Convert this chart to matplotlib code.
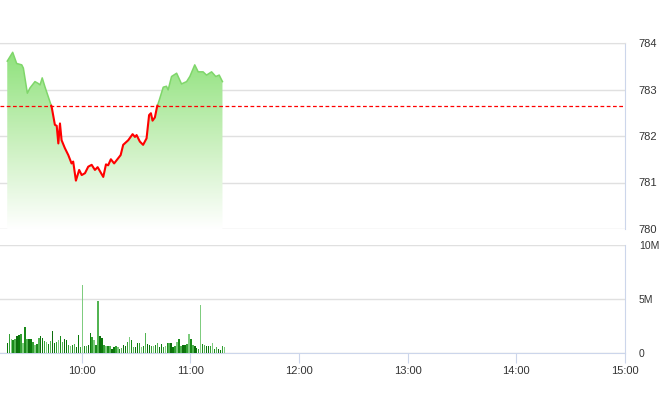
import matplotlib.pyplot as plt
import numpy as np
from matplotlib.colors import LinearSegmentedColormap
from matplotlib.patches import Polygon

plt.rcParams['font.family'] = ['Liberation Sans Narrow', 'Liberation Sans', 'DejaVu Sans']

# Price data (minutes after 09:00)
price_time = [19.0, 22.0, 24.2, 27.0, 27.9, 30.1, 31.5, 34.3, 36.1, 37.1,
              38.3, 39.8, 41.6, 43.5, 45.3, 46.3, 47.2, 48.1, 49.0, 50.8,
              52.7, 54.5, 55.4, 56.9, 58.7, 60.1, 61.9, 63.7, 65.6, 67.4,
              68.9, 72.0, 73.5, 74.7, 76.2, 78.0, 80.2, 81.6, 83.0, 85.8,
              88.2, 89.5, 90.4, 92.2, 94.0, 95.9, 97.3, 98.3, 99.2, 100.5,
              101.7, 102.9, 105.1, 106.9, 107.8, 109.7, 112.5, 115.2, 118.0, 119.8,
              122.5, 124.4, 127.1, 129.0, 131.8, 134.1, 136.0, 137.8]
price = [783.61, 783.80, 783.56, 783.53, 783.46, 782.92, 783.03, 783.17, 783.13, 783.10,
         783.25, 783.06, 782.85, 782.63, 782.24, 782.22, 781.84, 782.27, 781.91, 781.74,
         781.59, 781.41, 781.45, 781.04, 781.27, 781.16, 781.20, 781.34, 781.38, 781.27,
         781.33, 781.12, 781.39, 781.37, 781.50, 781.41, 781.52, 781.59, 781.81, 781.91,
         782.04, 781.98, 782.02, 781.88, 781.81, 781.95, 782.45, 782.49, 782.33, 782.40,
         782.63, 782.77, 783.05, 783.07, 782.99, 783.28, 783.35, 783.12, 783.17, 783.28,
         783.53, 783.38, 783.38, 783.31, 783.38, 783.28, 783.31, 783.17]
ref_price = 782.65

# Volume bars (millions), first bar at 09:19, one bar every ~1.09 min
vol_start = 19
vol_step = 1.09
volume = [0.94, 1.79, 1.26, 1.16, 1.32, 1.54, 1.64, 1.79, 0.94, 2.42,
          1.26, 1.26, 1.26, 1.00, 0.75, 0.85, 1.38, 1.57, 1.38, 1.07,
          1.00, 0.85, 1.07, 2.08, 0.94, 1.00, 1.23, 1.57, 1.00, 1.26,
          1.23, 0.75, 0.69, 0.75, 0.85, 0.53, 1.64, 0.53, 6.29, 0.63,
          0.63, 0.75, 1.89, 1.48, 1.16, 0.75, 4.78, 1.57, 1.38, 0.75,
          0.63, 0.63, 0.63, 0.38, 0.53, 0.63, 0.53, 0.38, 0.44, 0.75,
          0.63, 1.00, 1.48, 1.16, 0.53, 0.53, 0.94, 0.94, 0.53, 0.69,
          1.89, 0.85, 0.75, 0.63, 0.63, 0.75, 0.94, 0.53, 0.85, 0.53,
          0.69, 0.94, 0.94, 0.94, 0.53, 0.69, 1.00, 1.26, 0.63, 0.75,
          0.75, 0.85, 1.79, 1.26, 0.75, 0.63, 0.44, 0.38, 4.40, 0.85,
          0.75, 0.63, 0.63, 0.63, 0.94, 0.38, 0.53, 0.38, 0.25, 0.63,
          0.53]

hour_ticks = [60, 120, 180, 240, 300, 360]
hour_labels = ['10:00', '11:00', '12:00', '13:00', '14:00', '15:00']
price_ticks = [780, 781, 782, 783, 784]
vol_ticks = [0, 5, 10]
vol_labels = ['0', '5M', '10M']

x_min, x_max = 15, 360
grid_c = '#e0e0e0'
axis_c = '#ccd6eb'
text_c = '#333333'

fig = plt.figure(figsize=(6.6, 4.12), dpi=100)
ax = fig.add_axes([0, 1 - 229 / 412, 625 / 660, (229 - 43) / 412])
axv = fig.add_axes([0, 1 - 353 / 412, 625 / 660, (353 - 245) / 412])

# ---- price panel
t = np.array(price_time)
p = np.array(price)

# gradient fill under the line
verts = [(t[0], 780)] + list(zip(t, p)) + [(t[-1], 780)]
poly = Polygon(verts, closed=True, facecolor='none', edgecolor='none')
ax.add_patch(poly)
cmap = LinearSegmentedColormap.from_list('g', ['#ffffff', '#c9f0bd', '#8fe27c'])
grad = np.linspace(0, 1, 256).reshape(-1, 1)
im = ax.imshow(grad, extent=[t[0], t[-1], 780, p.max()], origin='lower',
               aspect='auto', cmap=cmap, zorder=1)
im.set_clip_path(poly)

# split line into above (green) / below (red) the reference
tt, pp = [t[0]], [p[0]]
for i in range(1, len(t)):
    a, b = p[i - 1] - ref_price, p[i] - ref_price
    if a * b < 0:
        tc = t[i - 1] + (t[i] - t[i - 1]) * a / (a - b)
        tt.append(tc)
        pp.append(ref_price)
    tt.append(t[i])
    pp.append(p[i])
tt, pp = np.array(tt), np.array(pp)
ax.plot(tt, np.ma.masked_where(pp < ref_price - 1e-9, pp), color='#7fd66a', lw=1.1, zorder=3)
ax.plot(tt, np.ma.masked_where(pp > ref_price + 1e-9, pp), color='#ff0000', lw=1.5, zorder=3)

ax.axhline(ref_price, color='#ff0000', lw=0.9, ls=(0, (3, 2)), zorder=4)

ax.set_xlim(x_min, x_max)
ax.set_ylim(780, 784)
ax.set_yticks(price_ticks)
ax.grid(axis='y', color=grid_c, lw=1)
ax.set_axisbelow(True)
ax.set_xticks([])
for s in ['left', 'bottom']:
    ax.spines[s].set_visible(False)
ax.spines['top'].set_color(grid_c)
ax.spines['right'].set_color(axis_c)
ax.yaxis.tick_right()
ax.tick_params(axis='y', length=0, pad=10, labelsize=8, labelcolor=text_c)

# ---- volume panel
shades = ['#0b7a0b', '#34a034', '#7fcc7f', '#1a8a1a', '#52b452', '#0e6e0e']
vx = vol_start + vol_step * np.arange(len(volume))
axv.bar(vx, volume, width=0.75, color=[shades[i % len(shades)] for i in range(len(volume))],
        antialiased=False, zorder=3)
axv.set_xlim(x_min, x_max)
axv.set_ylim(0, 10)
axv.set_yticks(vol_ticks)
axv.set_yticklabels(vol_labels)
axv.grid(axis='y', color=grid_c, lw=1)
axv.set_axisbelow(True)
axv.spines['left'].set_visible(False)
axv.spines['top'].set_visible(False)
axv.spines['right'].set_color(axis_c)
axv.spines['bottom'].set_color(axis_c)
axv.yaxis.tick_right()
axv.tick_params(axis='y', length=0, pad=10, labelsize=7.5, labelcolor=text_c)
axv.set_xticks(hour_ticks)
axv.set_xticklabels(hour_labels)
axv.tick_params(axis='x', length=7, color=axis_c, pad=2, labelsize=8, labelcolor=text_c)

fig.savefig('out.png', dpi=100)
